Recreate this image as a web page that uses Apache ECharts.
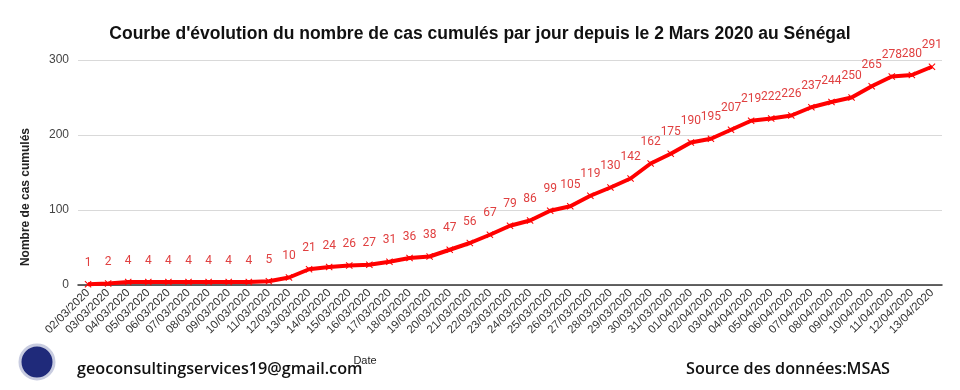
<!DOCTYPE html>
<html><head><meta charset="utf-8">
<script src="https://cdn.jsdelivr.net/npm/echarts@6/dist/echarts.min.js"></script>
<style>html,body{margin:0;padding:0;background:#fff}#c{width:960px;height:390px}</style>
</head><body><div id="c"></div>
<script>
const dates = ["02/03/2020","03/03/2020","04/03/2020","05/03/2020","06/03/2020","07/03/2020","08/03/2020","09/03/2020","10/03/2020","11/03/2020","12/03/2020","13/03/2020","14/03/2020","15/03/2020","16/03/2020","17/03/2020","18/03/2020","19/03/2020","20/03/2020","21/03/2020","22/03/2020","23/03/2020","24/03/2020","25/03/2020","26/03/2020","27/03/2020","28/03/2020","29/03/2020","30/03/2020","31/03/2020","01/04/2020","02/04/2020","03/04/2020","04/04/2020","05/04/2020","06/04/2020","07/04/2020","08/04/2020","09/04/2020","10/04/2020","11/04/2020","12/04/2020","13/04/2020"];
const cases = [1,2,4,4,4,4,4,4,4,5,10,21,24,26,27,31,36,38,47,56,67,79,86,99,105,119,130,142,162,175,190,195,207,219,222,226,237,244,250,265,278,280,291];
const yTicks = [0,100,200,300];

const chart = echarts.init(document.getElementById('c'), null, {renderer:'canvas'});
chart.setOption({
  animation:false,
  backgroundColor:'#fff',
  title:{text:"Courbe d'évolution du nombre de cas cumulés par jour depuis le 2 Mars 2020 au Sénégal",
    left:'center', top:20, textStyle:{fontFamily:'Liberation Sans, Arial', fontWeight:'bold', fontSize:17.5, color:'#111'}},
  grid:{left:78, right:18, top:60, bottom:105},
  xAxis:{type:'category', data:dates, boundaryGap:true,
    axisLine:{lineStyle:{color:'#333', width:1.5}}, axisTick:{show:false},
    axisLabel:{rotate:45, interval:0, fontSize:11.5, color:'#333', fontFamily:'Liberation Sans, Arial', margin:6},
    name:'Date', nameLocation:'middle', nameGap:70,
    nameTextStyle:{fontSize:11, color:'#222', fontFamily:'Liberation Sans, Arial', padding:[0,290,0,0]}},
  yAxis:{type:'value', min:yTicks[0], max:yTicks[yTicks.length-1], interval:100,
    axisLine:{show:false}, axisTick:{show:false},
    axisLabel:{fontSize:12, color:'#444', fontFamily:'Liberation Sans, Arial', margin:9},
    splitLine:{lineStyle:{color:'#d9d9d9', width:1}}},
  series:[{type:'line', data:cases,
    lineStyle:{color:'#ff0000', width:4},
    itemStyle:{color:'#ff0000'},
    symbol:'path://M0,1L1,0L5,4L9,0L10,1L6,5L10,9L9,10L5,6L1,10L0,9L4,5Z', symbolSize:7,
    label:{show:true, position:'top', distance:12, color:'#e04040', fontSize:12, fontFamily:'Roboto'}
  }],
  graphic:[
    {type:'text', left:20, top:128, rotation:Math.PI/2, style:{text:'Nombre de cas cumulés', fontSize:12, fontWeight:'bold', fill:'#222', fontFamily:'Liberation Sans, Arial'}},
    {type:'circle', shape:{cx:37, cy:362, r:17}, style:{fill:'#1f2a7a', stroke:'#c8cce0', lineWidth:3}},
    {type:'text', left:77, top:361, style:{text:'geoconsultingservices19@gmail.com', fontSize:16.2, fontWeight:'600', fill:'#111', fontFamily:'Open Sans'}},
    {type:'text', left:686, top:361, style:{text:'Source des données:MSAS', fontSize:16.2, fontWeight:'600', fill:'#111', fontFamily:'Open Sans'}}
  ]
});
</script></body></html>
